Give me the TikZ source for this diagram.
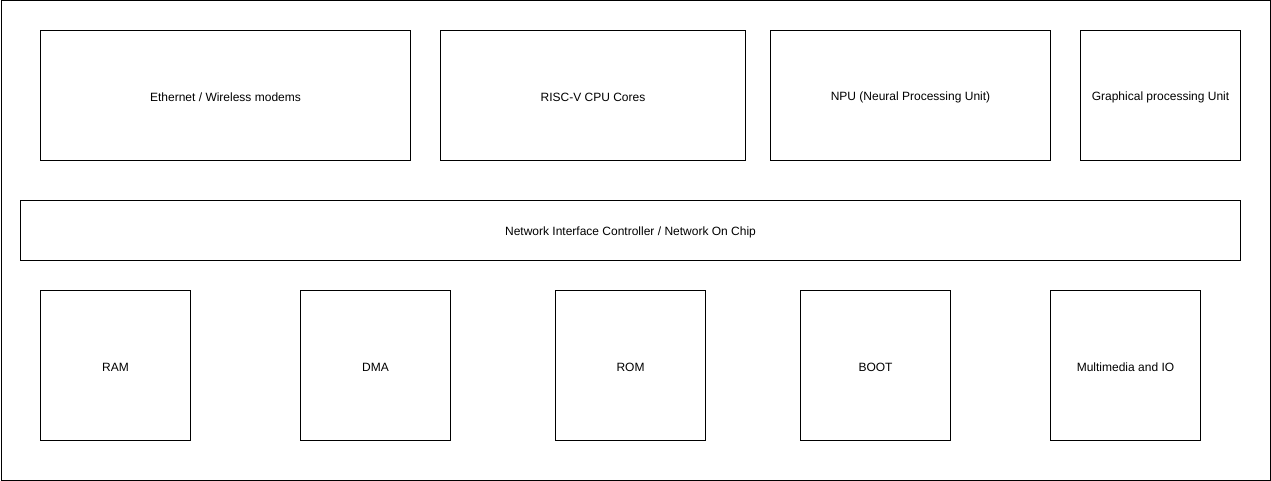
\documentclass[tikz,border=0pt]{standalone}
\usepackage{fontspec}
\setmainfont{Liberation Sans}
\begin{document}
\begin{tikzpicture}[x=1pt,y=-1pt,
  blk/.style={draw=black,line width=1pt,fill=white,inner sep=0pt,font=\fontsize{12}{14}\selectfont}]
\useasboundingbox (0,0) rectangle (1271,481);
\node[draw=black,line width=1pt,inner sep=0pt,minimum width=1269pt,minimum height=479pt] (frame) at (635.5,240.5) {};
\newcommand{\blkat}[6]{\node[blk,minimum width=#4pt-#2pt,minimum height=#5pt-#3pt] (#1) at ({(#2+#4)/2},{(#3+#5)/2}) {\raisebox{-1.5pt}[\height][\depth]{#6}};}
\blkat{eth}{40.5}{30.5}{410.5}{160.5}{Ethernet / Wireless modems}
\blkat{cpu}{440.5}{30.5}{745.5}{160.5}{RISC-V CPU Cores}
\blkat{npu}{770.5}{30.5}{1050.5}{160.5}{NPU (Neural Processing Unit)}
\blkat{gpu}{1080.5}{30.5}{1240.5}{160.5}{Graphical processing Unit}
\blkat{nic}{20.5}{200.5}{1240.5}{260.5}{Network Interface Controller / Network On Chip}
\blkat{ram}{40.5}{290.5}{190.5}{440.5}{RAM}
\blkat{dma}{300.5}{290.5}{450.5}{440.5}{DMA}
\blkat{rom}{555.5}{290.5}{705.5}{440.5}{ROM}
\blkat{boot}{800.5}{290.5}{950.5}{440.5}{BOOT}
\blkat{mio}{1050.5}{290.5}{1200.5}{440.5}{Multimedia and IO}
\end{tikzpicture}
\end{document}
